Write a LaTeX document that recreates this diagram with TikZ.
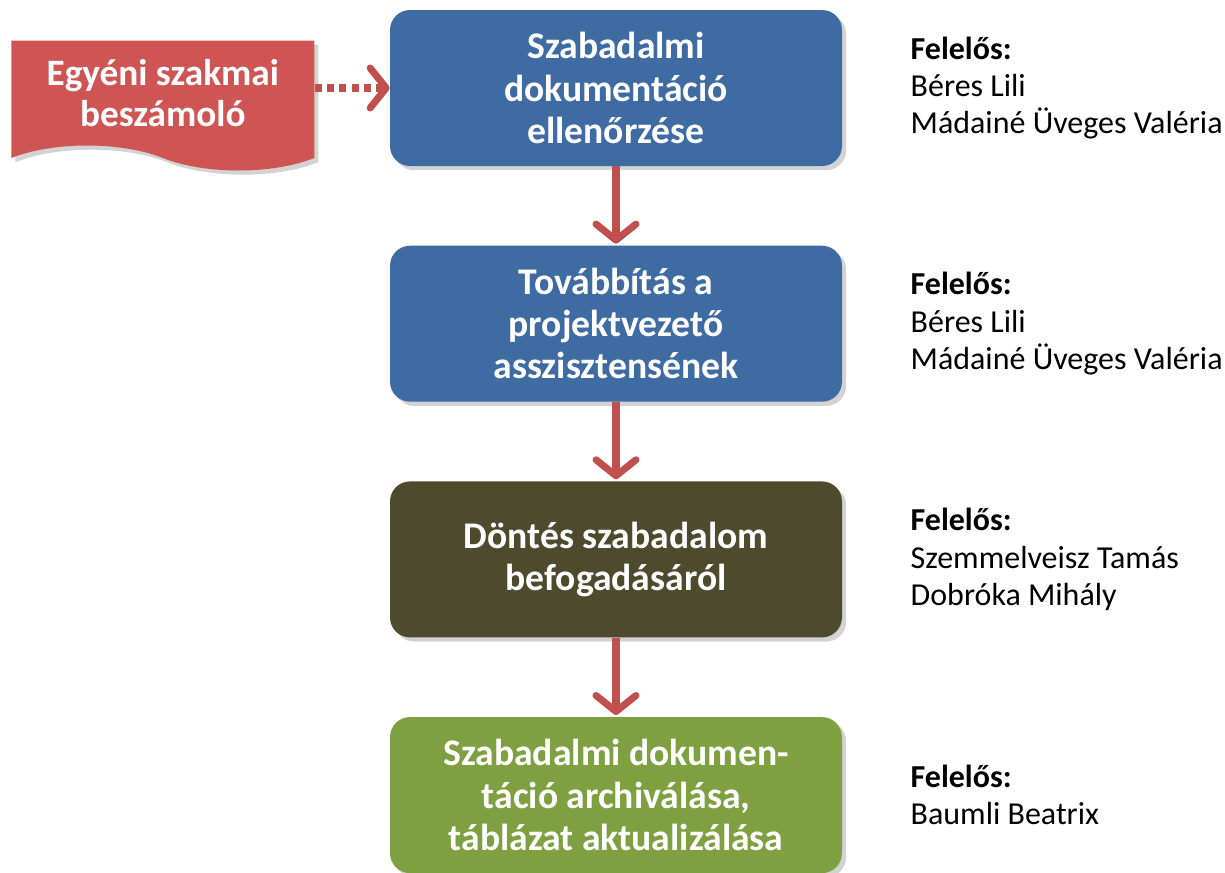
\documentclass[tikz,border=0pt]{standalone}
\usepackage{fontspec}
\setmainfont{Carlito}
\usepackage{xcolor}
\usepackage{tikz}
\usetikzlibrary{arrows.meta,positioning,shapes.symbols,shadows}

\definecolor{stepblue}{HTML}{3F6BA3}
\definecolor{stepolive}{HTML}{4E4A2D}
\definecolor{stepgreen}{HTML}{7EA040}
\definecolor{docred}{HTML}{CE5553}
\definecolor{arrowred}{HTML}{C0504D}

\begin{document}
\begin{tikzpicture}[
    node distance=1.58cm and 1.5cm,
    stepbox/.style={rounded corners=4mm, align=center, minimum height=3.12cm, minimum width=9.04cm,
        text=white, font=\fontsize{21.4}{24}\selectfont\bfseries, drop shadow={opacity=0.35}},
    docbox/.style={tape, tape bend top=none, tape bend bottom=out and in, tape bend height=5mm,
        fill=docred, align=center, minimum height=2.6cm, minimum width=6.06cm, text=white,
        font=\fontsize{21.2}{23.5}\selectfont\bfseries, drop shadow={opacity=0.35}},
    resp/.style={anchor=west, align=left, inner sep=0pt, font=\fontsize{18.2}{21.2}\selectfont},
    arrow/.style={-{Straight Barb[length=3.2mm, width=8mm, round]}, line width=4pt, color=arrowred, shorten >=1pt},
    dotarrow/.style={-{Straight Barb[length=3.2mm, width=8mm, round]}, line width=4pt, color=arrowred,
        dash pattern=on 4pt off 3pt}
]
    \useasboundingbox (0,0) rectangle (24.5,-17.46);
    \node[stepbox, fill=stepblue] (check) at (12.32,-1.76) {Szabadalmi\\dokumentáció\\ellenőrzése};
    \node[stepbox, fill=stepblue, below=of check] (forward) {Továbbítás a\\projektvezető\\asszisztensének};
    \node[stepbox, fill=stepolive, below=of forward] (decide) {Döntés szabadalom\\befogadásáról};
    \node[stepbox, fill=stepgreen, below=of decide] (archive) {Szabadalmi dokumen-\\táció archiválása,\\táblázat aktualizálása};
    \node[docbox, left=of check, yshift=-1mm] (report) {Egyéni szakmai\\beszámoló};

    \node[resp, right=1.36cm of check] (resp1) {\textbf{Felelős:}\\Béres Lili\\Mádainé Üveges Valéria};
    \node[resp, right=1.36cm of forward] (resp2) {\textbf{Felelős:}\\Béres Lili\\Mádainé Üveges Valéria};
    \node[resp, right=1.36cm of decide] (resp3) {\textbf{Felelős:}\\Szemmelveisz Tamás\\Dobróka Mihály};
    \node[resp, right=1.36cm of archive] (resp4) {\textbf{Felelős:}\\Baumli Beatrix};

    \draw[dotarrow] (report.east |- check) -- (check);
    \draw[arrow] (check) -- (forward);
    \draw[arrow] (forward) -- (decide);
    \draw[arrow] (decide) -- (archive);
\end{tikzpicture}
\end{document}
